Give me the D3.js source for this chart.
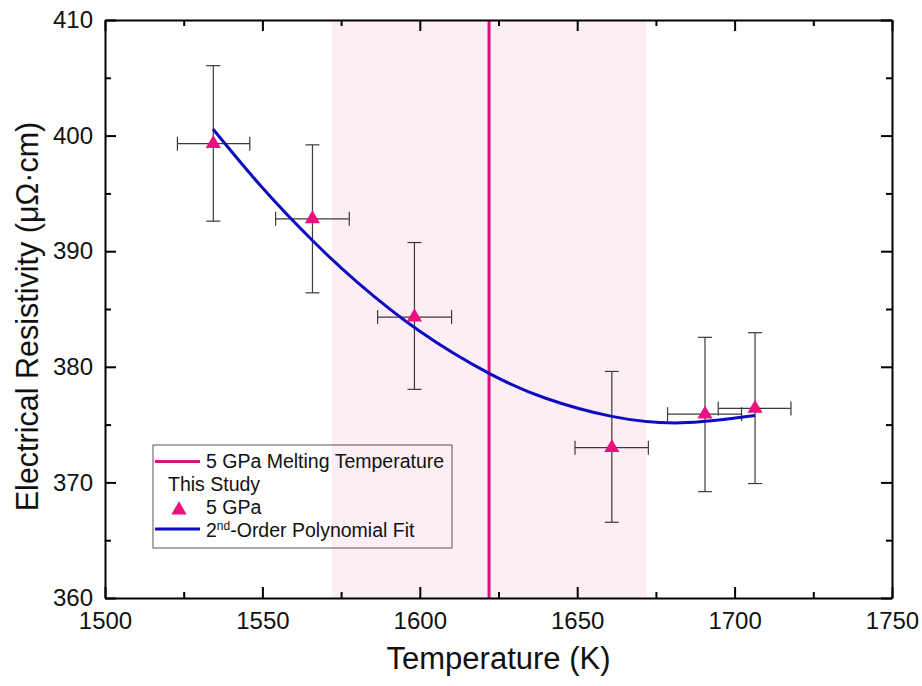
<!DOCTYPE html>
<html>
<head>
<meta charset="utf-8">
<script src="https://cdn.jsdelivr.net/npm/d3@7"></script>
<style>
  html, body { margin: 0; padding: 0; background: #fff; }
  svg { display: block; font-family: Arial, "Liberation Sans", sans-serif; }
</style>
</head>
<body>
<svg id="chart" width="922" height="686"></svg>
<script>
// ---- data ----
const temperature = [1534.4, 1565.9, 1598.3, 1661.0, 1690.6, 1706.5];
const resistivity = [399.3, 392.8, 384.3, 373.0, 375.9, 376.4];
const tempErrLow  = [1523.0, 1554.2, 1586.6, 1649.3, 1678.7, 1694.8];
const tempErrHigh = [1546.0, 1577.6, 1610.1, 1672.6, 1702.2, 1717.9];
const resErrLow   = [392.6, 386.4, 378.05, 366.55, 369.2, 369.9];
const resErrHigh  = [406.05, 399.2, 390.75, 379.6, 382.55, 382.95];

const fitTemperature = [1534.3, 1550, 1566, 1580, 1600, 1622, 1640, 1661, 1683, 1706.5];
const fitResistivity = [400.57, 395.49, 390.9, 387.35, 383.07, 379.43, 377.28, 375.71, 375.15, 375.78];

const meltingTemperature = [1622];
const meltingBand = [1572, 1672];

const xTicks = [1500, 1550, 1600, 1650, 1700, 1750];
const yTicks = [360, 370, 380, 390, 400, 410];
const xMinorTicks = [1525, 1575, 1625, 1675, 1725];
const yMinorTicks = [365, 375, 385, 395, 405];

const legendLabels = ["5 GPa Melting Temperature", "This Study", "5 GPa", "2nd-Order Polynomial Fit"];

// ---- layout ----
const svg = d3.select("#chart");
const L = 105, R = 892, T = 20, B = 598;
const x = d3.scaleLinear().domain([1500, 1750]).range([L, R]);
const y = d3.scaleLinear().domain([360, 410]).range([B, T]);

const pink = "#e8117f";
const meltColor = "#d4157a";
const blue = "#0d0dc0";
const errColor = "#3a3a3a";

// shaded band
svg.append("rect")
  .attr("x", x(meltingBand[0])).attr("y", T)
  .attr("width", x(meltingBand[1]) - x(meltingBand[0]))
  .attr("height", B - T)
  .attr("fill", "#fdeef5");

// melting line
svg.append("line")
  .attr("x1", x(meltingTemperature[0])).attr("x2", x(meltingTemperature[0]))
  .attr("y1", T).attr("y2", B)
  .attr("stroke", meltColor).attr("stroke-width", 3);

// error bars
const cap = 7;
const eb = svg.append("g").attr("stroke", errColor).attr("stroke-width", 1.2).attr("fill", "none");
temperature.forEach((t, i) => {
  const cx = x(t), cy = y(resistivity[i]);
  eb.append("line").attr("x1", cx).attr("x2", cx).attr("y1", y(resErrLow[i])).attr("y2", y(resErrHigh[i]));
  eb.append("line").attr("x1", cx - cap).attr("x2", cx + cap).attr("y1", y(resErrLow[i])).attr("y2", y(resErrLow[i]));
  eb.append("line").attr("x1", cx - cap).attr("x2", cx + cap).attr("y1", y(resErrHigh[i])).attr("y2", y(resErrHigh[i]));
  eb.append("line").attr("x1", x(tempErrLow[i])).attr("x2", x(tempErrHigh[i])).attr("y1", cy).attr("y2", cy);
  eb.append("line").attr("x1", x(tempErrLow[i])).attr("x2", x(tempErrLow[i])).attr("y1", cy - cap).attr("y2", cy + cap);
  eb.append("line").attr("x1", x(tempErrHigh[i])).attr("x2", x(tempErrHigh[i])).attr("y1", cy - cap).attr("y2", cy + cap);
});

// fit curve
const fitData = fitTemperature.map((t, i) => [t, fitResistivity[i]]);
svg.append("path")
  .datum(fitData)
  .attr("fill", "none").attr("stroke", blue).attr("stroke-width", 3)
  .attr("d", d3.line().x(d => x(d[0])).y(d => y(d[1])).curve(d3.curveNatural));

// markers
const tri = d3.symbol().type(d3.symbolTriangle).size(100);
svg.append("g").selectAll("path")
  .data(temperature.map((t, i) => [t, resistivity[i]]))
  .join("path")
  .attr("transform", d => `translate(${x(d[0])},${y(d[1])})`)
  .attr("d", tri)
  .attr("fill", pink);

// axes frame with inward ticks
const major = 11, minor = 6;
const axisG = svg.append("g");
function addAxis(axis, transform, ticks, size, labels) {
  const g = axisG.append("g").attr("transform", transform)
    .call(axis.tickValues(ticks).tickSize(size).tickSizeOuter(0).tickPadding(6)
      .tickFormat(labels ? d3.format("d") : ""));
  g.select(".domain").attr("stroke-width", 2).attr("stroke", "#000");
  g.selectAll(".tick line").attr("stroke-width", 2).attr("stroke", "#000");
  g.selectAll(".tick text").attr("font-size", 24).attr("fill", "#111")
    .attr("font-family", "Arial, 'Liberation Sans', sans-serif");
  return g;
}
// bottom
const gb = addAxis(d3.axisBottom(x), `translate(0,${B})`, xTicks, -major, true);
gb.selectAll(".tick text").attr("y", 14).attr("dy", "0.71em");
addAxis(d3.axisBottom(x), `translate(0,${B})`, xMinorTicks, -minor, false).select(".domain").remove();
// top
addAxis(d3.axisTop(x), `translate(0,${T})`, xTicks, -major, false);
addAxis(d3.axisTop(x), `translate(0,${T})`, xMinorTicks, -minor, false).select(".domain").remove();
// left
const gl = addAxis(d3.axisLeft(y), `translate(${L},0)`, yTicks, -major, true);
gl.selectAll(".tick text").attr("x", -12);
addAxis(d3.axisLeft(y), `translate(${L},0)`, yMinorTicks, -minor, false).select(".domain").remove();
// right
addAxis(d3.axisRight(y), `translate(${R},0)`, yTicks, -major, false);
addAxis(d3.axisRight(y), `translate(${R},0)`, yMinorTicks, -minor, false).select(".domain").remove();

// axis titles
svg.append("text")
  .attr("x", (L + R) / 2).attr("y", 669)
  .attr("text-anchor", "middle").attr("font-size", 31).attr("fill", "#111")
  .text("Temperature (K)");
svg.append("text")
  .attr("transform", `translate(38,${(113 + 520) / 2}) rotate(-90)`)
  .attr("text-anchor", "middle").attr("font-size", 30.5).attr("fill", "#111")
  .text("Electrical Resistivity (μΩ·cm)");

// legend
const lg = svg.append("g");
lg.append("rect").attr("x", 153).attr("y", 445).attr("width", 299).attr("height", 103)
  .attr("fill", "none").attr("stroke", "#555").attr("stroke-width", 1);
const fs = 19.5;
lg.append("line").attr("x1", 155).attr("x2", 200).attr("y1", 461.5).attr("y2", 461.5)
  .attr("stroke", meltColor).attr("stroke-width", 3);
lg.append("text").attr("x", 206).attr("y", 468).attr("font-size", fs).attr("fill", "#111").text(legendLabels[0]);
lg.append("text").attr("x", 168).attr("y", 491).attr("font-size", fs).attr("fill", "#111").text(legendLabels[1]);
lg.append("path").attr("transform", "translate(179,510)").attr("d", tri).attr("fill", pink);
lg.append("text").attr("x", 206).attr("y", 514).attr("font-size", fs).attr("fill", "#111").text(legendLabels[2]);
lg.append("line").attr("x1", 155).attr("x2", 200).attr("y1", 529).attr("y2", 529)
  .attr("stroke", blue).attr("stroke-width", 3);
const t4 = lg.append("text").attr("x", 206).attr("y", 537).attr("font-size", fs).attr("fill", "#111");
t4.append("tspan").text("2");
t4.append("tspan").attr("font-size", 12).attr("dy", -7).text("nd");
t4.append("tspan").attr("dy", 7).text("-Order Polynomial Fit");
</script>
</body>
</html>
